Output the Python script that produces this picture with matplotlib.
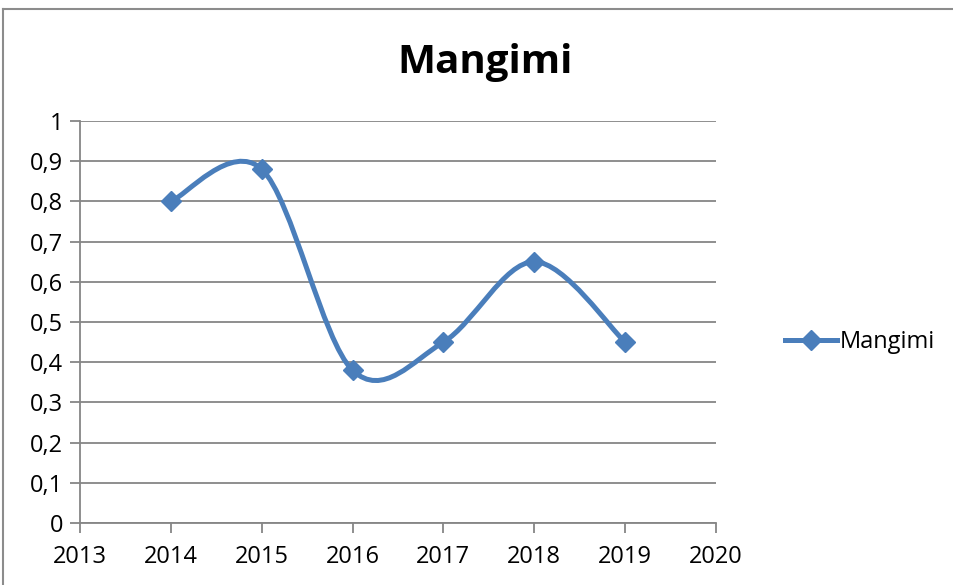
import numpy as np
import matplotlib.pyplot as plt
from matplotlib.path import Path
from matplotlib.patches import PathPatch
from matplotlib.lines import Line2D

years = [2014, 2015, 2016, 2017, 2018, 2019]
mangimi = [0.80, 0.88, 0.38, 0.45, 0.65, 0.45]
y_ticks = [0, 0.1, 0.2, 0.3, 0.4, 0.5, 0.6, 0.7, 0.8, 0.9, 1.0]
y_labels = ['0', '0,1', '0,2', '0,3', '0,4', '0,5', '0,6', '0,7', '0,8', '0,9', '1']
x_ticks = [2013, 2014, 2015, 2016, 2017, 2018, 2019, 2020]

blue = '#4A7EBB'
grid = '#868686'
plt.rcParams['font.family'] = ['Open Sans', 'DejaVu Sans']

fig = plt.figure(figsize=(9.54, 5.85), dpi=100)
ax = fig.add_axes([80 / 954, 1 - 523 / 585, 636 / 954, 402 / 585])

# smoothed line like Excel (Catmull-Rom -> cubic Bezier)
pts = np.column_stack([years, mangimi]).astype(float)
verts = [pts[0]]
codes = [Path.MOVETO]
n = len(pts)
for i in range(n - 1):
    p0 = pts[max(i - 1, 0)]
    p1 = pts[i]
    p2 = pts[i + 1]
    p3 = pts[min(i + 2, n - 1)]
    verts += [p1 + (p2 - p0) / 6, p2 - (p3 - p1) / 6, p2]
    codes += [Path.CURVE4] * 3
ax.add_patch(PathPatch(Path(verts, codes), fill=False, edgecolor=blue,
                       lw=3.6, capstyle='round', joinstyle='round', zorder=3))
ax.plot(years, mangimi, ls='none', marker='D', ms=10, color=blue, zorder=4)

ax.set_xlim(2013, 2020)
ax.set_ylim(0, 1)
ax.set_xticks(x_ticks)
ax.set_xticklabels([str(x) for x in x_ticks])
ax.set_yticks(y_ticks)
ax.set_yticklabels(y_labels)
ax.yaxis.grid(True, color=grid, lw=1.3)
ax.set_axisbelow(True)
for s in ['top', 'right']:
    ax.spines[s].set_visible(False)
for s in ['left', 'bottom']:
    ax.spines[s].set_color(grid)
    ax.spines[s].set_linewidth(1.3)
ax.tick_params(axis='both', colors=grid, width=1.3, length=7, labelsize=17,
               labelcolor='black')
ax.tick_params(axis='x', pad=9)
ax.tick_params(axis='y', pad=5)

fig.text(485 / 954, 1 - 62 / 585, 'Mangimi', ha='center', va='center',
         fontsize=29, fontweight='bold')

handle = Line2D([], [], color=blue, lw=3.6, marker='D', ms=10)
fig.legend([handle], ['Mangimi'], loc='center left', frameon=False,
           bbox_to_anchor=(764 / 954, 1 - 342 / 585), fontsize=17,
           handlelength=2.2, handletextpad=0.12)

# chart border (cropped on the right and bottom)
fig.add_artist(Line2D([3 / 954, 1], [1 - 9 / 585, 1 - 9 / 585], color='#8c8c8c', lw=1.5))
fig.add_artist(Line2D([3 / 954, 3 / 954], [0, 1 - 9 / 585], color='#8c8c8c', lw=1.5))

fig.savefig('out.png', dpi=100)
